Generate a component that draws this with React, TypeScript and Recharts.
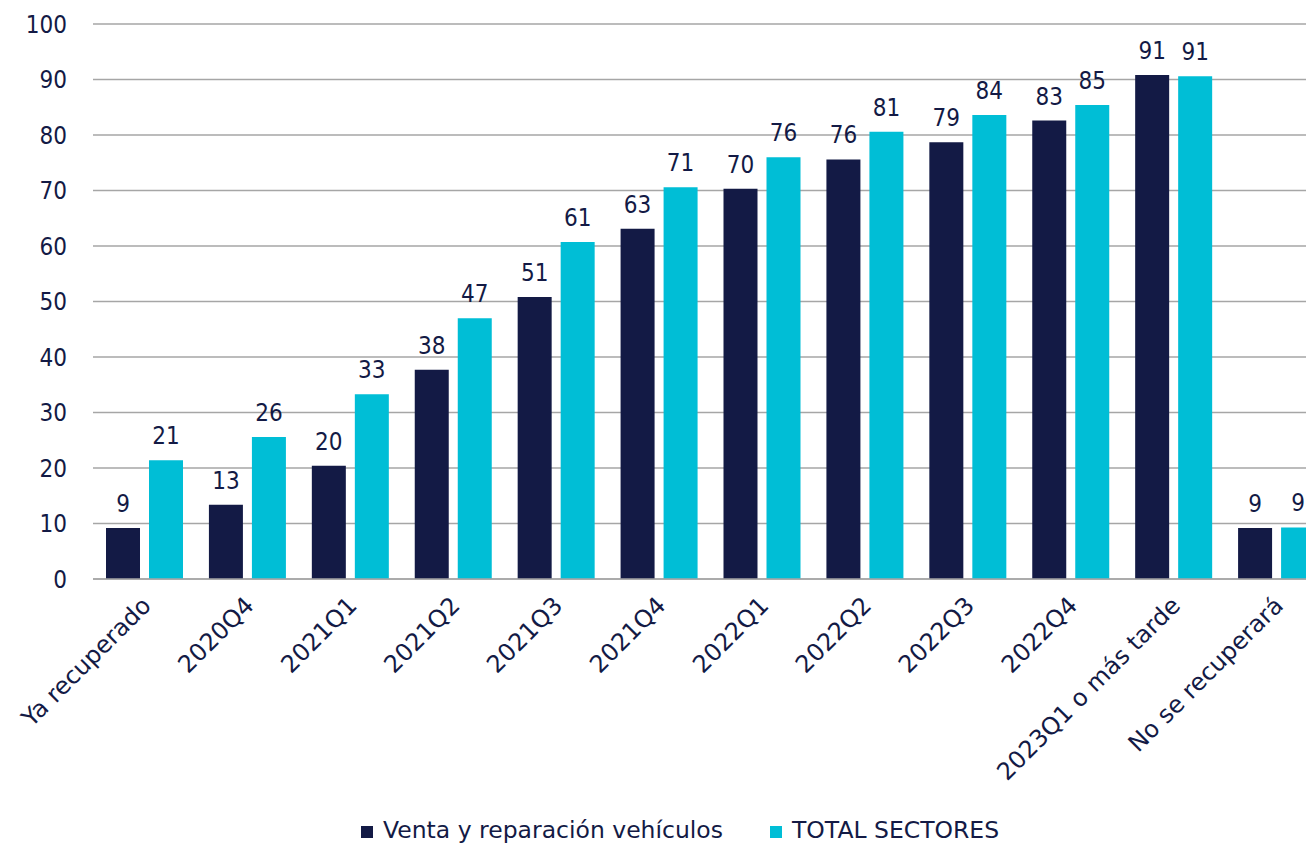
import { BarChart, Bar, XAxis, YAxis, CartesianGrid, LabelList, Legend } from 'recharts';

const categories = [
  'Ya recuperado',
  '2020Q4',
  '2021Q1',
  '2021Q2',
  '2021Q3',
  '2021Q4',
  '2022Q1',
  '2022Q2',
  '2022Q3',
  '2022Q4',
  '2023Q1 o más tarde',
  'No se recuperará',
];
const ventaValues = [9.2, 13.4, 20.4, 37.7, 50.8, 63.1, 70.3, 75.6, 78.7, 82.6, 90.8, 9.2];
const totalValues = [21.4, 25.6, 33.3, 47.0, 60.7, 70.6, 76.0, 80.6, 83.6, 85.4, 90.6, 9.3];
const yTicks = [0, 10, 20, 30, 40, 50, 60, 70, 80, 90, 100];

const NAVY = '#131A45';
const CYAN = '#00BED6';
const NUM_FONT = "Tahoma, 'DejaVu Sans Condensed', 'DejaVu Sans', sans-serif";
const TEXT_FONT = "Tahoma, 'DejaVu Sans', sans-serif";

const data = categories.map((name, i) => ({
  name,
  venta: ventaValues[i],
  total: totalValues[i],
}));

const legendItems = [
  { label: 'Venta y reparación vehículos', color: NAVY },
  { label: 'TOTAL SECTORES', color: CYAN },
];

function ChartLegend() {
  return (
    <div style={{ display: 'flex', alignItems: 'flex-start', marginLeft: 361, height: 27, lineHeight: '24px', fontFamily: TEXT_FONT, fontSize: 23.5, color: NAVY }}>
      {legendItems.map((item, i) => (
        <div key={item.label} style={{ display: 'flex', alignItems: 'center', height: 24, marginRight: i === 0 ? 47 : 0 }}>
          <span style={{ width: 12, height: 12, background: item.color, marginRight: 10, marginTop: 4 }} />
          <span>{item.label}</span>
        </div>
      ))}
    </div>
  );
}

export default function App() {
  const yTickStyle = { fontFamily: NUM_FONT, fontSize: 24, fill: NAVY };
  const xTickStyle = { fontFamily: TEXT_FONT, fontSize: 24, fill: NAVY };
  const labelStyle = { fontFamily: NUM_FONT, fontSize: 24, fill: NAVY };
  return (
    <div style={{ position: 'absolute', left: 0, top: 0, width: 1306, height: 845, overflow: 'hidden', background: 'white' }}>
      <BarChart
        width={1328}
        height={845}
        data={data}
        margin={{ top: 24, right: 0, left: 0, bottom: 0 }}
        barGap={9}
        barSize={34}
      >
        <CartesianGrid vertical={false} stroke="#A6A6A6" strokeWidth={1.5} />
        <XAxis
          dataKey="name"
          interval={0}
          tickLine={false}
          axisLine={{ stroke: '#A6A6A6', strokeWidth: 1.5 }}
          angle={-45}
          textAnchor="end"
          height={239}
          tickMargin={10}
          tick={{ ...xTickStyle, dx: -4 }}
        />
        <YAxis
          width={93}
          domain={[0, 100]}
          ticks={yTicks}
          tickLine={false}
          axisLine={false}
          tickSize={0}
          tickMargin={26}
          tick={yTickStyle}
        />
        <Legend verticalAlign="bottom" content={() => <ChartLegend />} />
        <Bar dataKey="venta" name="Venta y reparación vehículos" fill={NAVY} isAnimationActive={false}>
          <LabelList dataKey="venta" position="top" offset={16} formatter={(v: number) => Math.round(v)} style={labelStyle} />
        </Bar>
        <Bar dataKey="total" name="TOTAL SECTORES" fill={CYAN} isAnimationActive={false}>
          <LabelList dataKey="total" position="top" offset={16} formatter={(v: number) => Math.round(v)} style={labelStyle} />
        </Bar>
      </BarChart>
    </div>
  );
}
